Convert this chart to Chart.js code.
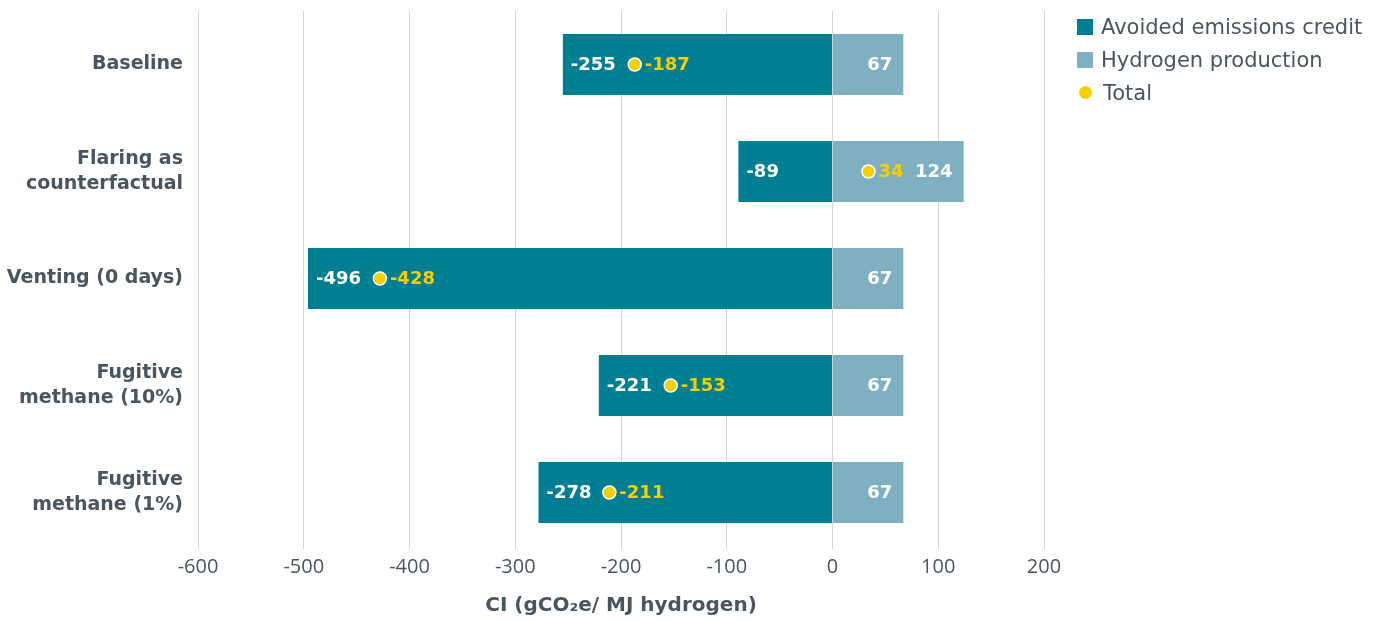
<!DOCTYPE html>
<html>
<head>
<meta charset="utf-8">
<script src="https://cdn.jsdelivr.net/npm/chart.js@4.4.0/dist/chart.umd.min.js"></script>
<style>
  html, body { margin: 0; padding: 0; background: #fff; }
  #wrap { position: relative; width: 1377px; height: 620px; }
  #legend { position: absolute; left: 1077px; top: 10px; font-family: 'DejaVu Sans', sans-serif; font-size: 21px; color: #4a5560; }
  #legend div { height: 33px; display: flex; align-items: center; }
  #legend span.box { display: inline-block; width: 16px; height: 16px; margin-right: 8px; }
  #legend span.dot { display: inline-block; width: 13px; height: 13px; border-radius: 50%; margin: 0 11px 0 2px; }
</style>
</head>
<body>
<div id="wrap">
  <canvas id="myChart" width="1377" height="620"></canvas>
  <div id="legend"></div>
</div>
<script>
const categories = ['Baseline', ['Flaring as', 'counterfactual'], 'Venting (0 days)', ['Fugitive', 'methane (10%)'], ['Fugitive', 'methane (1%)']];
const avoided = [-255, -89, -496, -221, -278];
const hydrogen = [67, 124, 67, 67, 67];
const total = [-187, 34, -428, -153, -211];
const xTicks = [-600, -500, -400, -300, -200, -100, 0, 100, 200];

const teal = '#007f93';
const lightBlue = '#7fb0c2';
const yellow = '#f5cf00';
const grey = '#4a5560';
const font = "'Open Sans', sans-serif";
const wideFont = "'DejaVu Sans', sans-serif";

const barLabels = {
    id: 'barLabels',
    afterDatasetsDraw(chart) {
        const ctx = chart.ctx;
        ctx.save();
        ctx.font = 'bold 18px ' + wideFont;
        ctx.textBaseline = 'middle';

        chart.getDatasetMeta(0).data.forEach((el, i) => {
            const left = Math.min(el.x, el.base);
            ctx.fillStyle = '#fff';
            ctx.textAlign = 'left';
            ctx.fillText(avoided[i], left + 8, el.y + 1);
        });
        chart.getDatasetMeta(1).data.forEach((el, i) => {
            const right = Math.max(el.x, el.base);
            ctx.fillStyle = '#fff';
            ctx.textAlign = 'right';
            ctx.fillText(hydrogen[i], right - 11, el.y + 1);
        });
        chart.getDatasetMeta(2).data.forEach((el, i) => {
            ctx.fillStyle = yellow;
            ctx.textAlign = 'left';
            ctx.fillText(total[i], el.x + 10, el.y + 1);
        });
        ctx.restore();
    }
};

const data = {
    labels: categories,
    datasets: [
        {
            type: 'bar',
            label: 'Avoided emissions credit',
            data: avoided,
            backgroundColor: teal,
            stack: 'ci',
            categoryPercentage: 0.57,
            barPercentage: 1,
            order: 2
        },
        {
            type: 'bar',
            label: 'Hydrogen production',
            data: hydrogen,
            backgroundColor: lightBlue,
            stack: 'ci',
            categoryPercentage: 0.57,
            barPercentage: 1,
            order: 2
        },
        {
            type: 'line',
            label: 'Total',
            data: total,
            showLine: false,
            stack: 'total',
            pointRadius: 6.5,
            pointHoverRadius: 6.5,
            pointBackgroundColor: yellow,
            pointBorderColor: '#fff',
            pointBorderWidth: 1.5,
            order: 1
        }
    ]
};

const config = {
    type: 'bar',
    data: data,
    plugins: [barLabels],
    options: {
        indexAxis: 'y',
        responsive: false,
        animation: false,
        layout: { padding: { top: 11, right: 333, left: 0, bottom: 0 } },
        plugins: {
            legend: { display: false },
            tooltip: { enabled: false }
        },
        scales: {
            x: {
                stacked: true,
                min: -600,
                max: 200,
                afterBuildTicks: (scale) => { scale.ticks = xTicks.map(v => ({ value: v })); },
                afterFit: (scale) => { scale.height = 74; },
                border: { display: false },
                grid: { color: '#d4d4d4', lineWidth: 1, drawTicks: true, tickLength: 3 },
                ticks: {
                    color: grey,
                    padding: 6,
                    font: { family: font, size: 20 }
                },
                title: {
                    display: true,
                    text: 'CI (gCO\u2082e/ MJ hydrogen)',
                    color: grey,
                    padding: { top: 4, bottom: 2 },
                    font: { family: wideFont, size: 20, weight: 'bold' }
                }
            },
            y: {
                stacked: true,
                afterFit: (scale) => {
                    scale.width = 198;
                    scale.paddingTop = 0;
                    scale.paddingBottom = 0;
                },
                border: { display: false },
                grid: { display: false },
                ticks: {
                    color: grey,
                    padding: 7,
                    font: { family: wideFont, size: 19, weight: 'bold', lineHeight: 1.32 }
                }
            }
        }
    }
};

const myChart = new Chart(document.getElementById('myChart'), config);

const legendItems = [
    { label: data.datasets[0].label, color: teal, cls: 'box' },
    { label: data.datasets[1].label, color: lightBlue, cls: 'box' },
    { label: data.datasets[2].label, color: yellow, cls: 'dot' }
];
legendItems.forEach(item => {
    const row = document.createElement('div');
    row.innerHTML = `<span class="${item.cls}" style="background:${item.color}"></span>${item.label}`;
    document.getElementById('legend').appendChild(row);
});
</script>
</body>
</html>
